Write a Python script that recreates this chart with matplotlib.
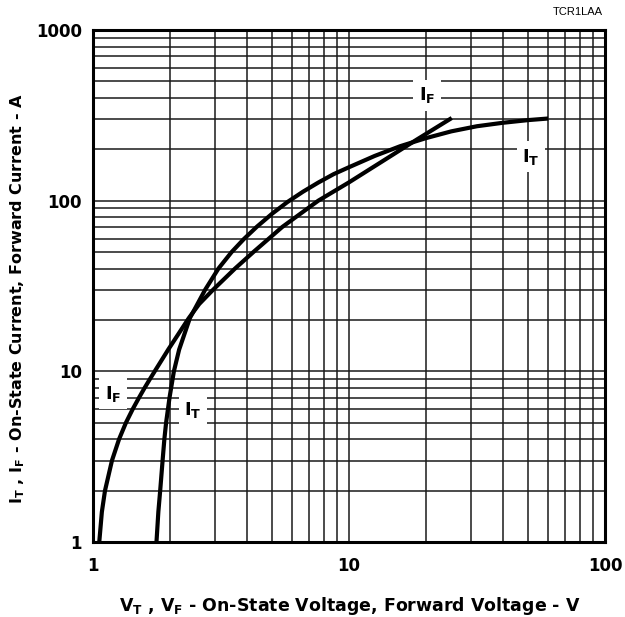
import matplotlib
matplotlib.use("Agg")
import matplotlib.pyplot as plt
from matplotlib.ticker import LogLocator, FixedLocator, NullFormatter, FixedFormatter

plt.rcParams['font.family'] = ['DejaVu Sans']
plt.rcParams['mathtext.fontset'] = 'custom'
plt.rcParams['mathtext.rm'] = 'DejaVu Sans'
plt.rcParams['mathtext.bf'] = 'DejaVu Sans:bold'
plt.rcParams['mathtext.it'] = 'DejaVu Sans:italic'

# I_F curve (forward)
if_v = [1.058, 1.083, 1.114, 1.186, 1.264, 1.345, 1.429, 1.512, 1.591, 1.668, 1.742,
        1.967, 2.367, 2.6, 2.941, 3.587, 4.233, 5.48, 7.59, 10.0, 13.5, 18.4, 25.2]
if_i = [1.0, 1.5, 2.0, 3.0, 4.0, 5.0, 6.0, 7.0, 8.0, 9.0, 10.0,
        13.4, 20.5, 24.8, 30.0, 40.0, 50.0, 70.0, 100.0, 128.0, 170.0, 228.0, 305.0]

# I_T curve (on-state)
it_v = [1.77, 1.80, 1.83, 1.87, 1.90, 1.93, 1.99, 2.07, 2.17, 2.39, 2.74, 3.09, 3.48,
        3.89, 4.365, 5.01, 5.75, 6.61, 7.59, 8.71, 10.0, 12.6, 15.85, 19.95, 25.1,
        31.6, 39.8, 50.1, 60.0]
it_i = [1.0, 1.5, 2.0, 3.0, 4.0, 5.0, 7.0, 10.0, 13.4, 20.5, 30.0, 40.0, 50.0,
        59.7, 70.3, 83.9, 98.2, 112.8, 127.7, 143.0, 157.0, 182.8, 208.5, 232.3, 254.7,
        272.9, 285.8, 296.5, 302.9]

x_ticks = [1, 10, 100]
x_ticklabels = ['1', '10', '100']
y_ticks = [1, 10, 100, 1000]
y_ticklabels = ['1', '10', '100', '1000']

fig = plt.figure(figsize=(6.25, 6.17), dpi=100)
ax = fig.add_axes([0.1488, 0.1216, 0.8192, 0.8298])
ax.set_xscale('log')
ax.set_yscale('log')
ax.set_xlim(1, 100)
ax.set_ylim(1, 1000)

ax.xaxis.set_major_locator(FixedLocator(x_ticks))
ax.xaxis.set_major_formatter(FixedFormatter(x_ticklabels))
ax.yaxis.set_major_locator(FixedLocator(y_ticks))
ax.yaxis.set_major_formatter(FixedFormatter(y_ticklabels))
ax.xaxis.set_minor_locator(LogLocator(base=10, subs=range(2, 10)))
ax.yaxis.set_minor_locator(LogLocator(base=10, subs=range(2, 10)))
ax.xaxis.set_minor_formatter(NullFormatter())
ax.yaxis.set_minor_formatter(NullFormatter())
ax.grid(True, which='both', color='#1a1a1a', linewidth=1.1, zorder=1)
ax.set_axisbelow(True)
ax.tick_params(which='both', length=0)
ax.tick_params(axis='x', pad=11, labelsize=12)
ax.tick_params(axis='y', pad=8, labelsize=12)
for lab in ax.get_xticklabels() + ax.get_yticklabels():
    lab.set_fontweight('bold')
for s in ax.spines.values():
    s.set_linewidth(2.2)
    s.set_color('black')

ax.plot(if_v, if_i, color='black', linewidth=3.0, zorder=3,
        solid_capstyle='butt', solid_joinstyle='round')
ax.plot(it_v, it_i, color='black', linewidth=3.0, zorder=3,
        solid_capstyle='butt', solid_joinstyle='round')

box = dict(facecolor='white', edgecolor='none', pad=4)
lab_kw = dict(fontsize=13, ha='center', va='center', bbox=box, zorder=2)
ax.text(20.2, 415, r'$\mathbf{I_F}$', **lab_kw)
ax.text(51.4, 181, r'$\mathbf{I_T}$', **lab_kw)
ax.text(1.2, 7.4, r'$\mathbf{I_F}$', **lab_kw)
ax.text(2.46, 5.9, r'$\mathbf{I_T}$', **lab_kw)

ax.set_xlabel(r'$\mathbf{V_T}$ , $\mathbf{V_F}$ - On-State Voltage, Forward Voltage - V',
              fontsize=12.5, fontweight='bold')
ax.xaxis.set_label_coords(0.502, -0.104)
ax.set_ylabel(r'$\mathbf{I_T}$ , $\mathbf{I_F}$ - On-State Current, Forward Current - A',
              fontsize=11.5, fontweight='bold')
ax.yaxis.set_label_coords(-0.128, 0.476)

fig.text(0.965, 0.9806, 'TCR1LAA', fontsize=8, ha='right', va='center',
         family='Liberation Sans')

fig.savefig('out.png', dpi=100, facecolor='white')
